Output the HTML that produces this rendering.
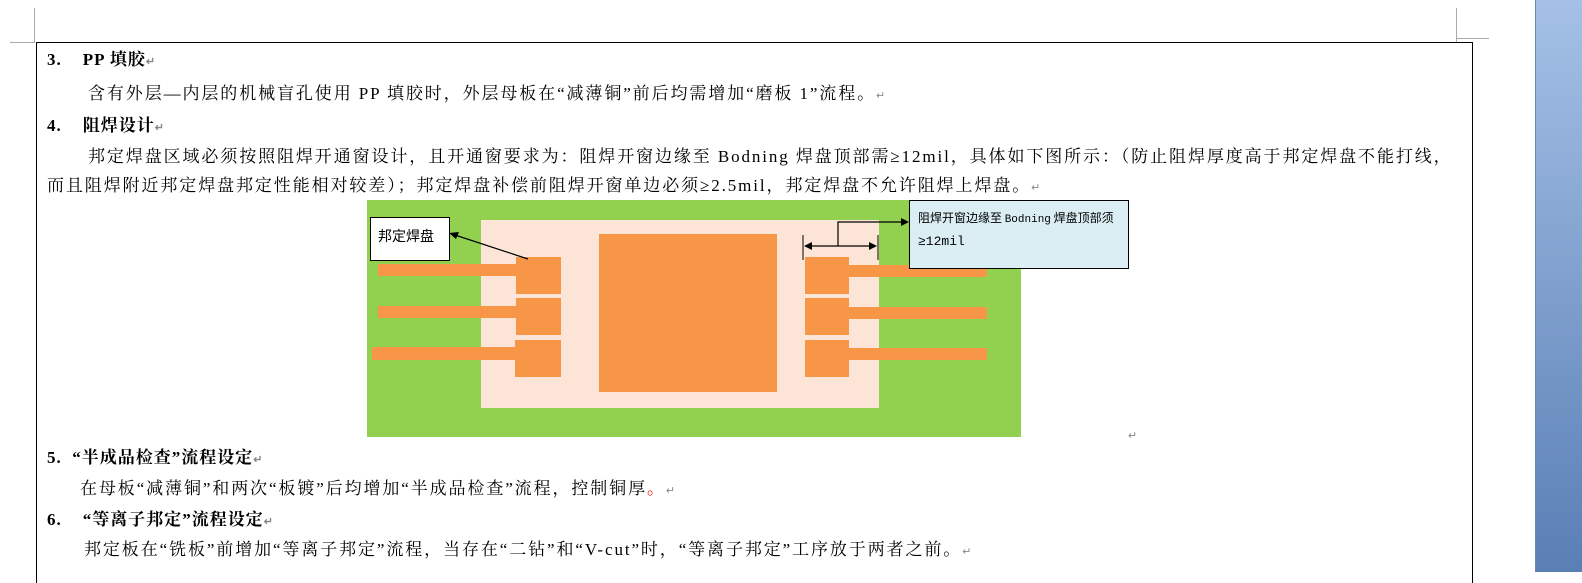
<!DOCTYPE html>
<html><head><meta charset="utf-8"><style>
body{margin:0;width:1582px;height:572px;overflow:hidden;background:#fff;position:relative;font-family:"Liberation Serif","Noto Serif CJK SC","Noto Sans CJK SC",serif;color:#000}
.t{position:absolute;font-size:17px;white-space:nowrap;line-height:20px;letter-spacing:1.9px}
.b{font-weight:bold}
.p{color:#888;font-size:11px}
</style></head><body>
<div style="position:absolute;left:1535px;top:0;width:47px;height:572px;background:linear-gradient(#a4c0e6,#5a7fb5);border-left:1px solid #6a86b0"></div>
<div style="position:absolute;left:34px;top:8px;width:1px;height:34px;background:#aaa"></div>
<div style="position:absolute;left:10px;top:42px;width:25px;height:1px;background:#aaa"></div>
<div style="position:absolute;left:1456px;top:8px;width:1px;height:34px;background:#aaa"></div>
<div style="position:absolute;left:1456px;top:38px;width:33px;height:1px;background:#aaa"></div>
<div style="position:absolute;left:36px;top:42px;width:1435px;height:540px;border:1px solid #000;border-bottom:none"></div>

<div class="t b" style="left:47px;top:50px;letter-spacing:1px">3.&nbsp;&nbsp;&nbsp; PP 填胶<span class="p">↵</span></div>
<div class="t" style="left:88px;top:84px">含有外层—内层的机械盲孔使用 PP 填胶时，外层母板在“减薄铜”前后均需增加“磨板 1”流程。<span class="p">↵</span></div>
<div class="t b" style="left:47px;top:116px;letter-spacing:1px">4.&nbsp;&nbsp;&nbsp; 阻焊设计<span class="p">↵</span></div>
<div class="t" style="left:88px;top:147px">邦定焊盘区域必须按照阻焊开通窗设计，且开通窗要求为：阻焊开窗边缘至 Bodning 焊盘顶部需≥12mil，具体如下图所示：（防止阻焊厚度高于邦定焊盘不能打线，</div>
<div class="t" style="left:47px;top:176px">而且阻焊附近邦定焊盘邦定性能相对较差）；邦定焊盘补偿前阻焊开窗单边必须≥2.5mil，邦定焊盘不允许阻焊上焊盘。<span class="p">↵</span></div>

<svg style="position:absolute;left:0;top:0" width="1582" height="572">
<rect x="367" y="200" width="654" height="237" fill="#92d050"/>
<rect x="481" y="220" width="398" height="188" fill="#fce4d6"/>
<rect x="599" y="234" width="178" height="158" fill="#f79646"/>
<g fill="#f79646">
<rect x="378" y="264" width="140" height="12"/><rect x="378" y="306" width="140" height="12"/><rect x="372" y="347" width="146" height="13"/>
<rect x="516" y="257" width="45" height="37"/><rect x="516" y="298" width="45" height="37"/><rect x="515" y="340" width="46" height="37"/>
<rect x="849" y="265" width="138" height="12"/><rect x="849" y="307" width="138" height="12"/><rect x="849" y="348" width="138" height="12"/>
<rect x="805" y="257" width="44" height="37"/><rect x="805" y="298" width="44" height="37"/><rect x="805" y="340" width="44" height="37"/>
</g>
<rect x="370.5" y="217.5" width="79" height="43" fill="#fff" stroke="#000"/>
<text x="378" y="241" font-size="14" font-family="Noto Sans CJK SC,sans-serif">邦定焊盘</text>
<line x1="528" y1="259" x2="455" y2="235" stroke="#000" stroke-width="1.2"/>
<polygon points="449,233 459,232 456,239" fill="#000"/>
<rect x="909.5" y="200.5" width="219" height="68" fill="#dbeef4" stroke="#000"/>
<text x="918" y="222" font-size="12" font-family="Noto Sans CJK SC,sans-serif">阻焊开窗边缘至 <tspan font-family="Liberation Mono" font-size="11">Bodning</tspan> 焊盘顶部须</text>
<text x="918" y="245" font-size="13" font-family="Liberation Mono,monospace">≥12mil</text>
<line x1="803" y1="235" x2="803" y2="260" stroke="#000"/>
<line x1="878" y1="235" x2="878" y2="260" stroke="#000"/>
<line x1="809" y1="246" x2="872" y2="246" stroke="#000" stroke-width="1.2"/>
<polygon points="804,246 812,242 812,250" fill="#000"/>
<polygon points="877,246 869,242 869,250" fill="#000"/>
<polyline points="838,246 838,222 903,222" fill="none" stroke="#000" stroke-width="1.2"/>
<polygon points="909,222 901,218 901,226" fill="#000"/>
</svg>
<div class="t p" style="left:1128px;top:426px">↵</div>

<div class="t b" style="left:47px;top:448px;letter-spacing:1px">5.&nbsp; “半成品检查”流程设定<span class="p">↵</span></div>
<div class="t" style="left:80px;top:479px">在母板“减薄铜”和两次“板镀”后均增加“半成品检查”流程，控制铜厚<span style="color:red">。</span><span class="p">↵</span></div>
<div class="t b" style="left:47px;top:510px;letter-spacing:1px">6.&nbsp;&nbsp;&nbsp; “等离子邦定”流程设定<span class="p">↵</span></div>
<div class="t" style="left:84px;top:540px">邦定板在“铣板”前增加“等离子邦定”流程，当存在“二钻”和“V-cut”时，“等离子邦定”工序放于两者之前。<span class="p">↵</span></div>
</body></html>
